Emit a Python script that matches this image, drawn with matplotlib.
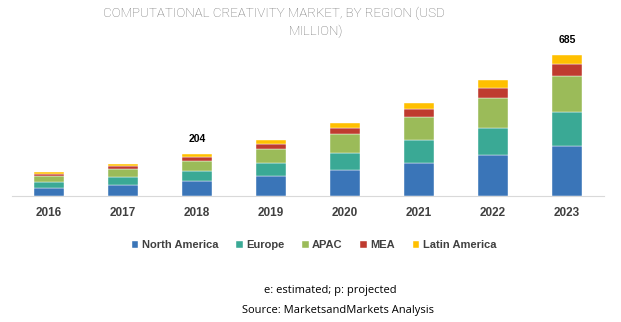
import matplotlib.pyplot as plt
import numpy as np

## data (USD million)
years = ['2016', '2017', '2018', '2019', '2020', '2021', '2022', '2023']
north_america = [40, 55, 74, 98, 128, 162, 199, 242]
europe = [29, 39, 48, 63, 82, 109, 132, 166]
apac = [29, 36, 50, 68, 89, 112, 143, 174]
mea = [10, 13, 18, 24, 31, 39, 50, 58]
latin_america = [7, 10, 14, 18, 23, 29, 39, 45]
labelled = {2: '204', 7: '685'}  # bar index -> printed total

regions = ['North America', 'Europe', 'APAC', 'MEA', 'Latin America']
series = [north_america, europe, apac, mea, latin_america]
colors = ['#3A75B8', '#3AA995', '#9BBB59', '#BF3B2F', '#FFC000']

fig = plt.figure(figsize=(6.21, 3.22), dpi=100)
ax = fig.add_axes([12 / 621, 126 / 322, 592 / 621, 156 / 322])

x = np.arange(len(years))
bottom = np.zeros(len(years))
handles = []
for vals, name, c in zip(series, regions, colors):
    b = ax.bar(x, vals, width=0.405, bottom=bottom, color=c, label=name,
               edgecolor='white', linewidth=0.3)
    handles.append(b)
    bottom += np.array(vals)

# totals above two bars
for i, txt in labelled.items():
    ax.annotate(txt, (x[i], bottom[i]), xytext=(0, 7), textcoords='offset points',
                ha='center', va='bottom', fontsize=7.5, fontweight='bold',
                family='Liberation Sans', color='black')

ax.set_xlim(-0.5, 7.5)
ax.set_ylim(0, 756)
ax.set_xticks(x)
ax.set_xticklabels(years, fontsize=8.5, fontweight='bold', family='Liberation Sans',
                   color='#404040')
ax.tick_params(axis='x', length=0, pad=8)
ax.set_yticks([])
for s in ['top', 'left', 'right']:
    ax.spines[s].set_visible(False)
ax.spines['bottom'].set_color('#d9d9d9')
ax.spines['bottom'].set_linewidth(0.8)

# title, wrapped in two lines like the original
fig.text(274 / 621, 1 - 13 / 322, 'COMPUTATIONAL CREATIVITY MARKET, BY REGION (USD',
         ha='center', va='center', fontsize=9.6, family='Roboto', fontweight='light',
         color='#707070')
fig.text(316 / 621, 1 - 31 / 322, 'MILLION)', ha='center', va='center', fontsize=9.6,
         family='Roboto', fontweight='light', color='#707070')

leg = fig.legend(handles=handles, labels=regions, loc='center',
                 bbox_to_anchor=(314 / 621, 1 - 245 / 322), ncol=5, frameon=False,
                 handlelength=0.6, handleheight=0.6, handletextpad=0.3,
                 columnspacing=1.6,
                 prop={'family': 'Liberation Sans', 'weight': 'bold', 'size': 8})
for t in leg.get_texts():
    t.set_color('#404040')

fig.text(330 / 621, 1 - 291 / 322, 'e: estimated; p: projected', ha='center',
         va='center', fontsize=8, family='Open Sans', color='black')
fig.text(338 / 621, 1 - 311 / 322, 'Source: MarketsandMarkets Analysis', ha='center',
         va='center', fontsize=8, family='Open Sans', color='black')

plt.savefig('out.png', dpi=100)
